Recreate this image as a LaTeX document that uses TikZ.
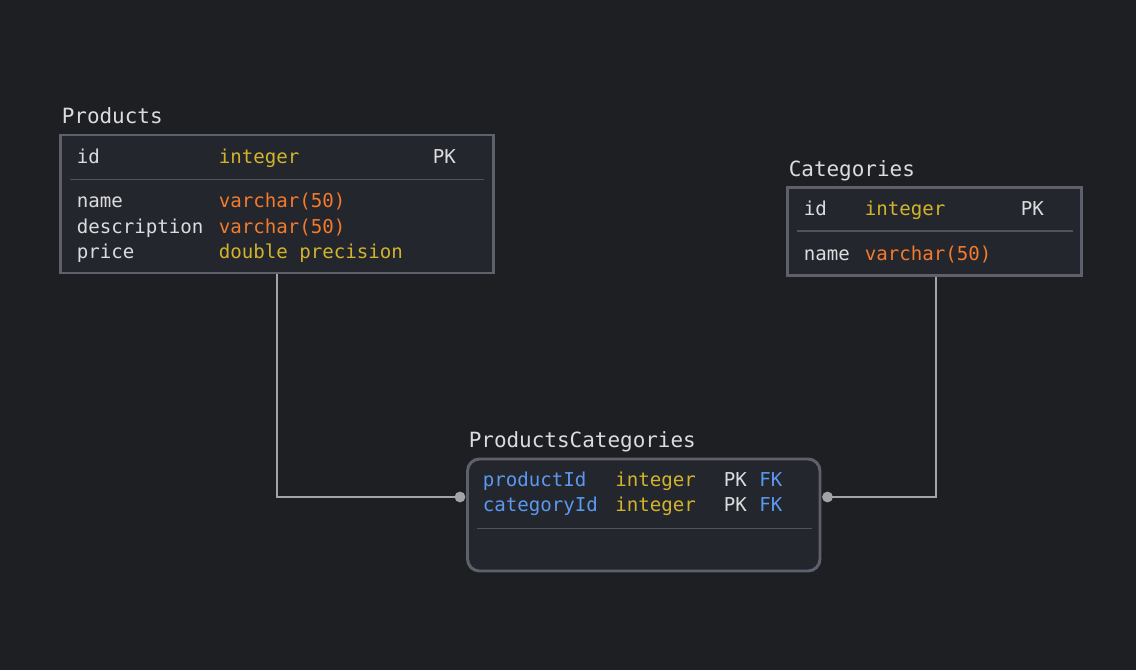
\documentclass[tikz,border=0pt]{standalone}
\usepackage{fontspec}
\setmonofont{DejaVu Sans Mono}
\usetikzlibrary{positioning,calc}
\definecolor{BG}{HTML}{1E1F23}
\definecolor{TB}{HTML}{23262D}
\definecolor{BD}{HTML}{5E616C}
\definecolor{DV}{HTML}{50535D}
\definecolor{TX}{HTML}{DCDCDE}
\definecolor{YL}{HTML}{D2B42C}
\definecolor{OR}{HTML}{F47A2C}
\definecolor{BL}{HTML}{5B98F0}
\definecolor{LK}{HTML}{A3A4AA}

\begin{document}
\begin{tikzpicture}[x=0.025cm, y=-0.025cm,
    tablebox/.style={draw=BD, fill=TB, line width=2.1pt, inner sep=0pt},
    lbl/.style={anchor=base west, inner sep=0pt,
                font=\fontsize{13.6}{16}\selectfont\ttfamily, text=TX},
    title/.style={lbl, font=\fontsize{14.9}{17}\selectfont\ttfamily},
    divider/.style={DV, line width=1.1pt},
    link/.style={LK, line width=1.1pt},
    dotnode/.style={circle, fill=LK, inner sep=0pt, minimum size=0.27cm}]

        %% ── background / frame ──────────────────────
        \fill[BG] (0,0) rectangle (1136,670);

        %% ── Products table ─────────────────────────
        \node[tablebox, minimum width=10.8cm, minimum height=3.45cm]
          (products) at (277,204) {};
        \node[title] (products-title) at (61.5,123) {Products};
        \node[lbl] (p-id) at (76.5,163) {id};
        \node[lbl, text=YL] (p-id-type) at (218.5,163) {integer};
        \node[lbl] (p-id-key) at (432.5,163) {PK};
        \draw[divider] (70,179.5) -- (483.5,179.5);
        \foreach \col/\ty/\clr/\y [count=\i] in
            {name/varchar(50)/OR/207.5,
             description/varchar(50)/OR/233,
             price/double precision/YL/258.5}{
          \node[lbl] (p-col\i) at (76.5,\y) {\col};
          \node[lbl, text=\clr] (p-type\i) at (218.5,\y) {\ty};
        }

        %% ── Categories table ───────────────────────
        \node[tablebox, minimum width=7.325cm, minimum height=2.2cm]
          (categories) at (934.5,231.5) {};
        \node[title] (categories-title) at (788.5,176) {Categories};
        \node[lbl] (c-id) at (803.5,215) {id};
        \node[lbl, text=YL] (c-id-type) at (864.5,215) {integer};
        \node[lbl] (c-id-key) at (1020.5,215) {PK};
        \draw[divider] (797,231) -- (1072.5,231);
        \node[lbl] (c-name) at (803.5,260) {name};
        \node[lbl, text=OR] (c-name-type) at (864.5,260) {varchar(50)};

        %% ── ProductsCategories table ───────────────
        \node[tablebox, rounded corners=0.3cm,
              minimum width=8.81cm, minimum height=2.8cm]
          (pc) at (643.75,515) {};
        \node[title] (pc-title) at (468.5,447) {ProductsCategories};
        \foreach \col/\y [count=\i] in {productId/486.5, categoryId/511.5}{
          \node[lbl, text=BL] (pc-col\i) at (482.5,\y) {\col};
          \node[lbl, text=YL] (pc-type\i) at (615,\y) {integer};
          \node[lbl] (pc-pk\i) at (723.5,\y) {PK};
          \node[lbl, text=BL] (pc-fk\i) at (759,\y) {FK};
        }
        \draw[divider] (477,528.5) -- (811.5,528.5);

        %% ── connections ────────────────────────────
        \node[dotnode] (pc-left) at (460,497) {};
        \node[dotnode] (pc-right) at (827.5,497) {};
        \draw[link] (products.south) |- (pc-left.center);
        \draw[link] (categories.south -| 936,0) |- (pc-right.center);

      \end{tikzpicture}
\end{document}
